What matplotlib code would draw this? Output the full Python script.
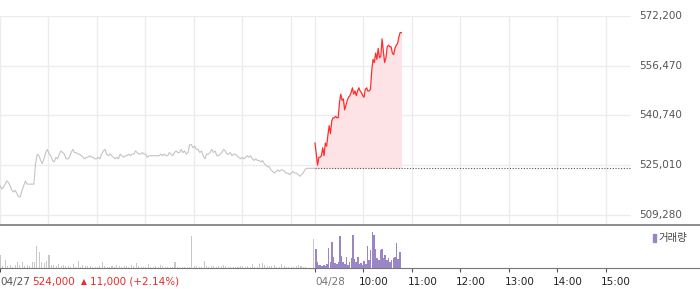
import numpy as np
import matplotlib
matplotlib.use("Agg")
import matplotlib.pyplot as plt
from matplotlib.patches import Rectangle

plt.rcParams['font.family'] = ['DejaVu Sans', 'Noto Sans CJK KR']

W, H = 700, 289

# price series (won)
prev_close = 524000
day1_price = [
    518500, 517500, 518000, 519000, 520000, 519500, 518500, 517000, 516500, 517000,
    516000, 515000, 515000, 517000, 518500, 520000, 519000, 519000, 519000, 519000,
    519000, 525500, 528500, 528000, 526500, 525500, 527000, 529000, 530000, 528500,
    528000, 526500, 526000, 527500, 527000, 528500, 529500, 529000, 528500, 527000,
    527000, 527500, 529000, 530000, 529000, 529000, 528500, 528500, 528000, 527500,
    527000, 527500, 527500, 528000, 527500, 527500, 527000, 527000, 527500, 527000,
    528500, 529500, 530000, 528500, 528000, 528500, 528000, 527500, 527000, 527500,
    527000, 528500, 528000, 527500, 528000, 528000, 528500, 528000, 528500, 528500,
    529500, 529000, 528500, 528500, 529000, 528500, 528500, 527500, 528000, 528000,
    528000, 528000, 528000, 528000,
    528000, 528500, 528000, 528500, 528000, 528000, 529000, 528500, 528000, 529000,
    529500, 529000, 529000, 530000, 529000, 529500, 528500, 529000, 531500, 531500,
    530500, 531000, 530000, 530000, 529000, 529500, 528000, 527000, 528500, 528500,
    529000, 530000, 529000, 529500, 528000, 528000, 528500, 529000, 530000, 529500,
    528500, 528500, 529000, 528000, 528500, 528500, 528000, 527500, 527000, 527500,
    527000, 527500, 528000, 527500, 528000, 527000, 526500, 527000, 526500, 526500,
    526000, 526500, 525500, 525000, 524500, 524500, 523500, 523000, 522500, 523000,
    523500, 523000, 523500, 523500, 523000, 522500, 522500, 522000, 522500, 523000,
    522500, 522500, 522000, 521500, 522000, 522500, 523500, 524000, 524000, 524000,
    524000, 524000, 524000,
]
day2_price = [
    532000, 528500, 525000, 527500, 527500, 528000, 530500, 528000, 532000, 531000,
    534500, 537500, 535000, 539000, 540000, 540000, 540500, 540000, 540000, 545000,
    547500, 545500, 546000, 542500, 544000, 545500, 546500, 547000, 548000, 549500,
    547500, 548500, 547000, 548500, 549500, 548500, 548000, 547000, 546500, 549000,
    549500, 548500, 548500, 549000, 555000, 558500, 557500, 560500, 558500, 562000,
    559000, 559500, 565000, 561000, 557500, 559000, 562500, 563000, 562500, 562500,
    560500, 560000, 562000, 563000, 563500, 565500, 567000, 567000,
]

# volume (thousand shares), 3-min bins for 04/27, 2-min bins for 04/28
day1_volume = [
    13, 2, 8, 2, 3, 1.5, 3.5, 5.7, 3, 6.3, 2, 3, 2, 6.3, 5.7, 22.3, 16.3, 5.7, 4.7, 7,
    13, 3.5, 3, 2.3, 3.7, 2.3, 3, 2.3, 1.7, 1.5, 3.7, 1.3, 7, 1.5, 3, 1.7, 2.3, 1.7, 1.2, 1.3,
    1.5, 2.3, 6, 1.7, 1.3, 1.3, 2.3, 1.5, 3, 1.7, 1.3, 1.7, 1.7, 1.3, 3, 2.3, 5, 1.7, 1.3, 1.3,
    1.3, 3.7, 1.3, 1.3, 1.7, 1.3, 3, 2.3, 1, 1, 1.3, 1, 6.3, 1.5, 1.3, 1, 1, 1.3, 1, 32,
    2.3, 2.3, 1.3, 1, 7, 1.7, 1.3, 2, 2.3, 1.3, 1.7, 2, 3, 2, 1.5, 1.3, 1, 1.3, 1.3, 2,
    2.3, 1.3, 2, 1, 4, 1.5, 1.5, 3.7, 4.7, 3, 2.3, 1.7, 2, 3, 1.3, 1.5, 3.7, 1.7, 1.3, 1.2,
    1, 1.3, 1.7, 3, 1.7, 1.3, 1.3, 0.5, 0.5, 29,
]
day2_volume = [
    19, 5.7, 3, 3, 1.7, 3, 2.3, 3.7, 20.3, 5.7, 25.7, 11.3, 4.7, 3.7, 5.7, 32.3, 12.3, 6.3,
    3.7, 11.3, 3, 6.3, 9.7, 33, 9, 5.7, 11.3, 3.7, 4.7, 3, 7, 3.7, 22.3, 8, 18, 36.3, 33,
    19, 9.7, 8, 18, 19, 10.3, 13, 8, 9.7, 5.7, 8, 9.7, 11.3, 24.7, 9, 16.3,
]

price_ticks = [509280, 525010, 540740, 556470, 572200]
price_labels = ["509,280", "525,010", "540,740", "556,470", "572,200"]
hour_ticks = [450, 510, 570, 630, 690, 750]   # minutes from 04/27 09:00
hour_labels = ["10:00", "11:00", "12:00", "13:00", "14:00", "15:00"]

# x axis is minutes: 04/27 09:00 = 0, 04/28 09:00 = 390, session end 780
SESSION = 390
PLOT_END = 780
PX_PER_MIN = 630 / PLOT_END
XMAX = W / PX_PER_MIN

GRID = '#ececec'
GRAY_LINE = '#c4c4c8'
RED = '#ff2d2d'
PINK = '#fde3e6'
PURPLE = '#9a86c6'


def px_to_fig(x, y):
    return x / W, 1 - y / H


fig = plt.figure(figsize=(W / 100, H / 100), dpi=100)

# main price panel
ax = fig.add_axes([0, 1 - 225 / H, 1, (225 - 16) / H])
ax.set_xlim(0, XMAX)
ax.set_ylim(506050, 572250)

ax.hlines(price_ticks, 0, PLOT_END, color=GRID, lw=1, zorder=0)
for m in list(range(0, SESSION, 60)) + [SESSION] + hour_ticks:
    ax.axvline(m, color=GRID, lw=1, zorder=0)

t1 = np.linspace(0, SESSION, len(day1_price))
t2 = np.linspace(SESSION, SESSION + 107, len(day2_price))
ax.plot(t1, day1_price, color=GRAY_LINE, lw=0.8, zorder=2)
ax.fill_between(t2, day2_price, prev_close, color=PINK, lw=0, zorder=1)
ax.plot(t2, day2_price, color=RED, lw=0.9, zorder=3)
ax.hlines(prev_close, SESSION, PLOT_END, color='#555555', lw=0.8,
          linestyles=(0, (1, 1.5)), zorder=2)

for v, lab in zip(price_ticks, price_labels):
    ax.text(639 / W, v, lab, transform=ax.get_yaxis_transform(),
            ha='left', va='center', fontsize=7.5, color='#555555')

ax.set_xticks([])
ax.set_yticks([])
for s in ['top', 'left', 'right']:
    ax.spines[s].set_visible(False)
ax.spines['bottom'].set_color('#8c8c8c')
ax.spines['bottom'].set_linewidth(1.4)

# volume panel
vax = fig.add_axes([0, 1 - 268 / H, 1, (268 - 227) / H])
vax.set_xlim(0, XMAX)
vax.set_ylim(0, 41)
vt1 = np.arange(len(day1_volume)) * 3
vt2 = SESSION + np.arange(len(day2_volume)) * 2
vax.bar(vt1, day1_volume, width=1.3, align='edge', color='#c8c8cc', lw=0)
vax.bar(vt2, day2_volume, width=1.9, align='edge', color=PURPLE, lw=0)

vax.set_yticks([])
vax.set_xticks([0, SESSION] + hour_ticks)
vax.set_xticklabels([])
vax.tick_params(axis='x', direction='out', length=3, width=0.8, color='#555555')
for s in ['top', 'left', 'right']:
    vax.spines[s].set_visible(False)
vax.spines['bottom'].set_color('#777777')
vax.spines['bottom'].set_linewidth(0.8)

# legend for volume
fig.patches.append(Rectangle(px_to_fig(653, 242), 3 / W, 8 / H,
                             transform=fig.transFigure, color=PURPLE))
fig.text(*px_to_fig(658, 238), "거래량", ha='left', va='center',
         fontsize=7.5, color='#444444',
         family=['Noto Sans CJK KR', 'DejaVu Sans'])

# bottom labels
ly = 282
fig.text(*px_to_fig(0, ly), "04/27", ha='left', va='center', fontsize=7.5, color='#555555')
fig.text(*px_to_fig(32.5, ly), "524,000", ha='left', va='center', fontsize=7.5, color='#ee2a2a')
fig.text(*px_to_fig(80.5, ly), "▲", ha='left', va='center', fontsize=5.5, color='#ee2a2a')
fig.text(*px_to_fig(90.5, ly), "11,000 (+2.14%)", ha='left', va='center', fontsize=7.5, color='#ee2a2a')
fig.text(*px_to_fig(SESSION * PX_PER_MIN, ly), "04/28", ha='left', va='center',
         fontsize=7.5, color='#777777')
for m, lab in zip(hour_ticks, hour_labels):
    fig.text(*px_to_fig(m * PX_PER_MIN - 4.5, ly), lab, ha='left', va='center',
             fontsize=7.5, color='#222222')

fig.savefig("out.png", dpi=100)
